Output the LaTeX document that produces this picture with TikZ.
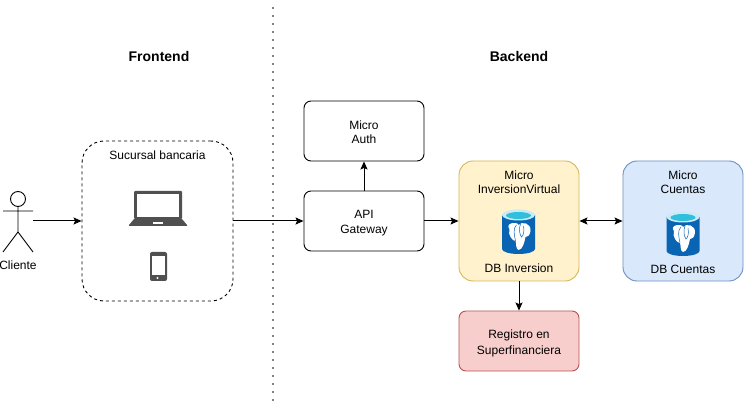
\documentclass[tikz,border=0pt]{standalone}
\usepackage{fontspec}
\usetikzlibrary{arrows.meta}
\setmainfont{Liberation Sans}
\definecolor{yellowfill}{HTML}{FFF2CC}
\definecolor{yellowline}{HTML}{D6B656}
\definecolor{bluefill}{HTML}{DAE8FC}
\definecolor{blueline}{HTML}{6C8EBF}
\definecolor{redfill}{HTML}{F8CECC}
\definecolor{redline}{HTML}{B85450}
\definecolor{devicegray}{HTML}{505050}
\definecolor{dbblue}{HTML}{0A64B4}
\definecolor{dbtop}{HTML}{C8EBF5}
\definecolor{dbwater}{HTML}{32BEDD}
\newcommand{\rowstrut}{\rule[-1pt]{0pt}{13.5pt}}
\tikzset{
    box/.style={draw, line width=.9pt, rounded corners=7pt, minimum width=120pt, minimum height=60pt, inner sep=0pt, align=center, font=\fontsize{12}{14.5}\selectfont},
    tallbox/.style={box, minimum height=120pt, rounded corners=14pt},
    txt/.style={inner sep=0pt, align=center, font=\fontsize{12}{14.5}\selectfont},
    head/.style={inner sep=0pt, font=\fontsize{14}{16}\selectfont\bfseries},
    link/.style={line width=1pt, >={Stealth[length=8pt, width=7pt, inset=1.5pt]}},
    dbicon/.pic={
        \fill[dbblue] (-16.5,-17) -- (-16.5,17) arc[start angle=180, end angle=360, x radius=16.5, y radius=-5] -- (16.5,-17) -- cycle;
        \fill[dbtop] (0,-17) ellipse (16.5 and 5.5);
        \fill[dbwater] (0,-16.5) ellipse (12.5 and 3.5);
        % elephant
        \fill[white] (-9,-3) .. controls (-14,-9) and (-1,-11) .. (0,-7) .. controls (3,-11) and (13,-9) .. (12,-1) .. controls (11,4) and (9,5) .. (7,5) .. controls (6,10) and (4,18) .. (0,18) .. controls (-3,17) and (-2,11) .. (-3,9) .. controls (-6,9) and (-11,3) .. (-9,-3) -- cycle;
        \draw[dbblue, line width=.5pt] (-2,-7) .. controls (-6,-4) and (-4,4) .. (-3,9);
        \draw[dbblue, line width=.5pt] (2,-8) .. controls (0,-3) and (1,2) .. (3,5) .. controls (5,3) and (6,0) .. (5,-6);
    }
}
\begin{document}
\begin{tikzpicture}[>=latex, x=1pt, y=-1pt]
\useasboundingbox (0,0) rectangle (744,403);

\draw[line width=1.8pt, line cap=round, dash pattern=on 0pt off 8pt] (273,8) -- (273,403);

\node[head] (front) at (159,56) {Frontend};
\node[head] (back) at (519,56) {Backend};

% cliente
\draw[line width=.9pt] (18,199) circle (7.5);
\draw[line width=.9pt] (18,206.5) -- (18,232) (3,211) -- (33,211) (3,252) -- (18,232) -- (33,252);
\node[txt] (cliente) at (18,265) {Cliente};
\coordinate (clienteout) at (33,221);

% sucursal
\node[box, dashed, minimum width=151pt, minimum height=160pt, rounded corners=22pt] (sucursal) at (157.5,221) {};
\node[txt] (sucursaltxt) at (157.5,155) {Sucursal bancaria};

% laptop
\fill[devicegray, rounded corners=1pt] (134,191) rectangle (182,219);
\fill[white] (137,194) rectangle (179,217);
\fill[devicegray] (134,219) -- (182,219) -- (187,225) -- (187,226) -- (129,226) -- (129,225) -- cycle;
\fill[white] (153,222) rectangle (163,224.5);

% telefono
\fill[devicegray, rounded corners=2pt] (150,252) rectangle (167,281);
\fill[white] (152,256) rectangle (165,275);
\fill[white] (157.5,278) circle (1.2);

\node[box] (auth) at (364,131) {\rowstrut Micro\\\rowstrut Auth};
\node[box] (gateway) at (364,221) {\rowstrut API\\\rowstrut Gateway};

\node[tallbox, draw=yellowline, fill=yellowfill] (inversion) at (519,221) {};
\node[txt] (inversiontxt) at (519,181) {\rowstrut Micro\\\rowstrut InversionVirtual};
\pic at (518.5,232) {dbicon};
\node[txt] (inversiondb) at (519,268) {DB Inversion};

\node[tallbox, draw=blueline, fill=bluefill] (cuentas) at (683,221) {};
\node[txt] (cuentastxt) at (683,181) {\rowstrut Micro\\\rowstrut Cuentas};
\pic at (683,234) {dbicon};
\node[txt] (cuentasdb) at (683,269) {DB Cuentas};

\node[box, draw=redline, fill=redfill] (registro) at (519,341) {\rowstrut Registro en\\\rowstrut Superfinanciera};

\draw[->, link] (clienteout) -- (sucursal);
\draw[->, link] (sucursal) -- (gateway);
\draw[->, link] (gateway) -- (auth);
\draw[->, link] (gateway) -- (inversion);
\draw[<->, link] (inversion) -- (cuentas);
\draw[->, link] (inversion) -- (registro);
\end{tikzpicture}
\end{document}
